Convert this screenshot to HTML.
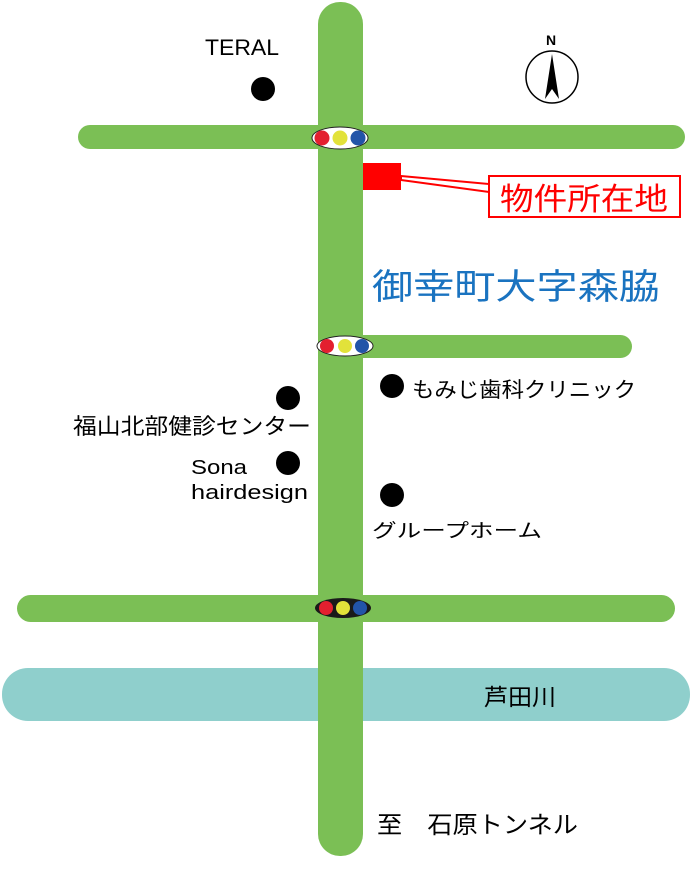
<!DOCTYPE html>
<html><head><meta charset="utf-8"><style>
html,body{margin:0;padding:0;background:#fff;}
svg{display:block;}
text{font-family:"Liberation Sans","Noto Sans CJK JP",sans-serif;}
</style></head><body>
<svg width="691" height="885" viewBox="0 0 691 885" xmlns="http://www.w3.org/2000/svg">
<rect width="691" height="885" fill="#fff"/>
<rect x="2" y="668" width="688" height="53" rx="26" fill="#8fcfcc"/>
<rect x="78" y="125" width="607" height="24" rx="12" fill="#7bbf55"/>
<rect x="330" y="335" width="302" height="23" rx="11.5" fill="#7bbf55"/>
<rect x="17" y="595" width="658" height="27" rx="13.5" fill="#7bbf55"/>
<rect x="318" y="2" width="45" height="854" rx="22" fill="#7bbf55"/>
<g>
<ellipse cx="340" cy="138" rx="28" ry="11" fill="#fff" stroke="#222" stroke-width="1"/>
<circle cx="322" cy="138" r="7.5" fill="#e3202f"/><circle cx="340" cy="138" r="7.5" fill="#e2e23a"/><circle cx="358" cy="138" r="7.5" fill="#2254a8"/>
</g>
<g>
<ellipse cx="345" cy="346" rx="28" ry="10" fill="#fff" stroke="#222" stroke-width="1"/>
<circle cx="327" cy="346" r="7" fill="#e3202f"/><circle cx="345" cy="346" r="7" fill="#e2e23a"/><circle cx="362" cy="346" r="7" fill="#2254a8"/>
</g>
<g>
<ellipse cx="343" cy="608" rx="28" ry="10" fill="#1a1a1a"/>
<circle cx="326" cy="608" r="7" fill="#e3202f"/><circle cx="343" cy="608" r="7" fill="#e2e23a"/><circle cx="360" cy="608" r="7" fill="#2254a8"/>
</g>
<rect x="363" y="163" width="38" height="27" fill="#ff0000"/>
<polygon points="401,176 489,184 489,192 401,180" fill="none" stroke="#ff0000" stroke-width="2"/>
<rect x="489" y="176" width="191" height="41" fill="#fff" stroke="#ff0000" stroke-width="2"/>
<text x="500" y="210" font-size="31" fill="#ff0000" textLength="168" lengthAdjust="spacingAndGlyphs">物件所在地</text>
<text x="551" y="45" font-size="14" font-weight="bold" text-anchor="middle" fill="#000">N</text>
<circle cx="552" cy="77" r="26" fill="#fff" stroke="#000" stroke-width="1.5"/>
<polygon points="552,54 559,99 552,89 545,99" fill="#000"/>
<circle cx="263" cy="89" r="12" fill="#000"/>
<circle cx="288" cy="398" r="12" fill="#000"/>
<circle cx="288" cy="463" r="12" fill="#000"/>
<circle cx="392" cy="386" r="12" fill="#000"/>
<circle cx="392" cy="495" r="12" fill="#000"/>
<text x="205" y="55" font-size="22" fill="#000" textLength="74" lengthAdjust="spacingAndGlyphs">TERAL</text>
<text x="372" y="299" font-size="35" fill="#1a73c0" textLength="288" lengthAdjust="spacingAndGlyphs">御幸町大字森脇</text>
<text x="412" y="397" font-size="21" fill="#000" textLength="224" lengthAdjust="spacingAndGlyphs">もみじ歯科クリニック</text>
<text x="73" y="434" font-size="22" fill="#000" textLength="238" lengthAdjust="spacingAndGlyphs">福山北部健診センター</text>
<text x="191" y="474" font-size="20" fill="#000" textLength="56" lengthAdjust="spacingAndGlyphs">Sona</text>
<text x="191" y="499" font-size="20" fill="#000" textLength="117" lengthAdjust="spacingAndGlyphs">hairdesign</text>
<text x="372" y="537" font-size="19" fill="#000" textLength="170" lengthAdjust="spacingAndGlyphs">グループホーム</text>
<text x="484" y="705" font-size="23" fill="#000" textLength="72" lengthAdjust="spacingAndGlyphs">芦田川</text>
<text x="377" y="833" font-size="24" fill="#000" textLength="201" lengthAdjust="spacingAndGlyphs">至　石原トンネル</text>
</svg>
</body></html>
